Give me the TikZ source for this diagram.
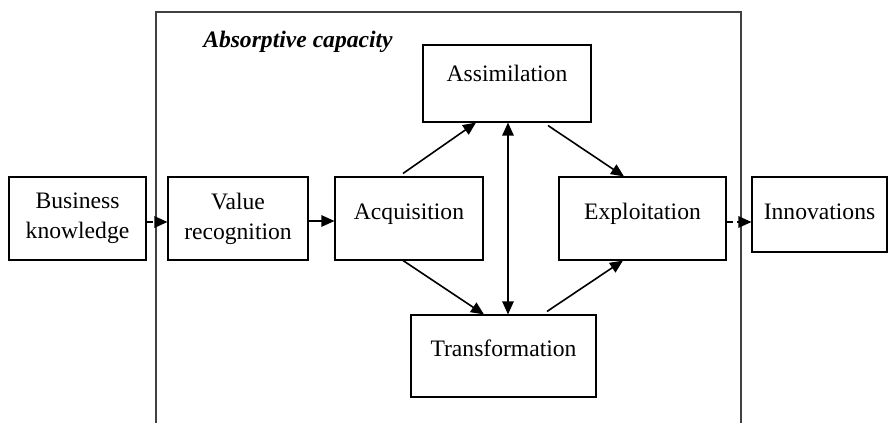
\documentclass[tikz,border=0pt]{standalone}
\usepackage{fontspec}
\setmainfont{Liberation Serif}
\usetikzlibrary{arrows.meta,calc}
\begin{document}
\begin{tikzpicture}[x=0.75pt,y=-0.75pt,
  box/.style={draw,line width=0.8pt,inner sep=0pt,align=center,
    font=\fontsize{17.7}{22.5}\selectfont},
  tip/.tip={Triangle[length=9.75pt,width=8.5pt]},
  flow/.style={line width=1.2pt,-tip},
  dflow/.style={flow,dash pattern=on 4.5pt off 3.5pt}]
\useasboundingbox (0,0) rectangle (888,423);
% absorptive capacity frame
\draw[line width=0.8pt,black!75] (156,423) -- (156,12) -- (741,12) -- (741,423);
\node[anchor=base west,inner sep=0pt,font=\fontsize{17.7}{22.5}\selectfont\bfseries\itshape] (ac) at (203,48) {Absorptive capacity};
% boxes
\node[box,minimum width=102.75pt,minimum height=62.25pt] (bk) at (77.5,218.5) {Business\\knowledge};
\node[box,minimum width=105pt,minimum height=62.25pt] (vr) at (238,218.5) {Value\\recognition};
\node[box,minimum width=111pt,text height=32.25pt,text depth=30pt] (acq) at (409,218.5) {Acquisition};
\node[box,minimum width=126pt,text height=27.75pt,text depth=30pt] (assim) at (507,83.5) {Assimilation};
\node[box,minimum width=125.25pt,text height=32.25pt,text depth=30pt] (expl) at (642.5,218.5) {Exploitation};
\node[box,minimum width=138.75pt,text height=31.5pt,text depth=30pt] (trans) at (503.5,356) {Transformation};
\node[box,minimum width=101.25pt,text height=32.25pt,text depth=24pt] (innov) at (819.5,214.5) {Innovations};
% connectors
\coordinate (c1) at ($(bk.east)+(0,3.5)$);
\draw[dflow] (c1) -- (vr.west |- c1);
\coordinate (c2) at ($(vr.east)+(0,2.5)$);
\draw[flow] (c2) -- (acq.west |- c2);
\coordinate (c3) at ($(expl.east)+(0,3.5)$);
\draw[dflow] (c3) -- (innov.west |- c3);
\draw[flow] ($(acq.north)+(-6,-3)$) -- ($(assim.south)+(-31,0)$);
\draw[flow] ($(assim.south)+(41,3)$) -- ($(expl.north)+(-18.5,0)$);
\draw[flow] ($(acq.south)+(-6,0)$) -- ($(trans.north)+(-19.5,0)$);
\draw[flow] ($(trans.north)+(43.5,-3)$) -- ($(expl.south)+(-19.5,0)$);
\draw[line width=1.2pt,tip-tip] ($(assim.south)+(1,0)$) -- ($(assim.south |- trans.north)+(1,0)$);
\end{tikzpicture}
\end{document}
